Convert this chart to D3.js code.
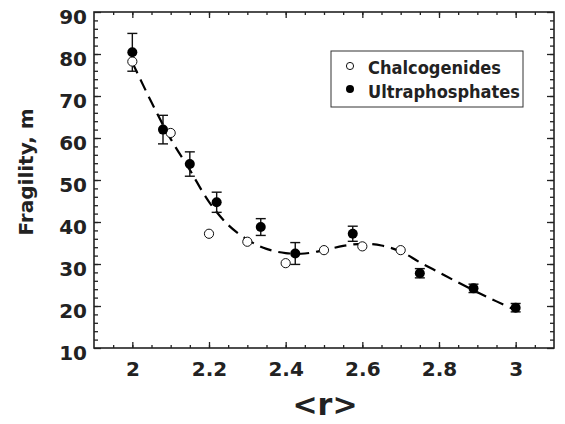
<!DOCTYPE html>
<html>
<head>
<meta charset="utf-8">
<script src="https://cdn.jsdelivr.net/npm/d3@7"></script>
<style>
  body { margin: 0; background: #fff; }
  text { font-family: "DejaVu Sans", sans-serif; font-weight: bold; fill: #222; }
</style>
</head>
<body>
<svg width="565" height="424"></svg>
<script>
// ultraphosphates (filled, with error bars)
var ultraR   = [2.0, 2.08, 2.15, 2.22, 2.335, 2.425, 2.575, 2.75, 2.89, 3.0];
var ultraM   = [80.4, 62.0, 53.8, 44.7, 38.8, 32.5, 37.2, 27.8, 24.2, 19.6];
var ultraErr = [4.5, 3.4, 2.9, 2.4, 2.0, 2.6, 1.8, 1.1, 1.0, 1.0];

// chalcogenides (open)
var chalcR = [2.0, 2.1, 2.2, 2.3, 2.4, 2.5, 2.6, 2.7];
var chalcM = [78.2, 61.2, 37.2, 35.3, 30.2, 33.3, 34.2, 33.3];

// dashed guide curve
var fitR = [2.0, 2.05, 2.1, 2.15, 2.2, 2.25, 2.3, 2.35, 2.4, 2.45, 2.5, 2.55, 2.6, 2.65, 2.7, 2.75, 2.8, 2.85, 2.9, 2.95, 3.0];
var fitM = [78, 68.5, 59.8, 52.4, 44.8, 39.3, 35.8, 33.6, 32.6, 32.5, 33.3, 34.3, 34.8, 34.4, 33.0, 30.4, 28.0, 25.6, 23.3, 21.1, 19.0];

var xTicks = [2, 2.2, 2.4, 2.6, 2.8, 3];
var yTicks = [10, 20, 30, 40, 50, 60, 70, 80, 90];

var svg = d3.select("svg");
var L = 94, R = 554, T = 12, B = 348;

var x = d3.scaleLinear().domain([1.9, 3.1]).range([L, R]);
var y = d3.scaleLinear().domain([10, 90]).range([B, T]);

// ticks, all pointing inward
var xMinor = d3.range(1.95, 3.1, 0.05);
var yMinor = d3.range(12, 90, 2);

var g = svg.append("g");
g.append("g").attr("transform", "translate(0," + B + ")")
  .call(d3.axisBottom(x).tickValues(xMinor).tickSize(-3).tickFormat(""));
g.append("g").attr("transform", "translate(0," + T + ")")
  .call(d3.axisTop(x).tickValues(xMinor).tickSize(-3).tickFormat(""));
g.append("g").attr("transform", "translate(" + L + ",0)")
  .call(d3.axisLeft(y).tickValues(yMinor).tickSize(-4).tickFormat(""));
g.append("g").attr("transform", "translate(" + R + ",0)")
  .call(d3.axisRight(y).tickValues(yMinor).tickSize(-4).tickFormat(""));

var xb = g.append("g").attr("transform", "translate(0," + B + ")")
  .call(d3.axisBottom(x).tickValues(xTicks).tickSize(-6).tickPadding(14).tickFormat(d3.format("")));
g.append("g").attr("transform", "translate(0," + T + ")")
  .call(d3.axisTop(x).tickValues(xTicks).tickSize(-6).tickFormat(""));
var yl = g.append("g").attr("transform", "translate(" + L + ",0)")
  .call(d3.axisLeft(y).tickValues(yTicks).tickSize(-7).tickPadding(7));
g.append("g").attr("transform", "translate(" + R + ",0)")
  .call(d3.axisRight(y).tickValues(yTicks).tickSize(-7).tickFormat(""));

g.selectAll(".domain").remove();
g.selectAll(".tick line").attr("stroke", "#222").attr("stroke-width", 1.3);
g.selectAll(".tick text").style("font-size", "20px").attr("fill", "#222");
yl.selectAll(".tick text").attr("dy", "0.55em");
xb.selectAll(".tick text").attr("dy", "0.72em");

// frame
svg.append("rect").attr("x", L).attr("y", T).attr("width", R - L).attr("height", B - T)
  .attr("fill", "none").attr("stroke", "#222").attr("stroke-width", 1.6);

// dashed curve
var line = d3.line().curve(d3.curveCatmullRom)
  .x(function(d, i) { return x(fitR[i]); })
  .y(function(d, i) { return y(fitM[i]); });
svg.append("path").datum(fitR).attr("d", line)
  .attr("fill", "none").attr("stroke", "#000").attr("stroke-width", 2.2)
  .attr("stroke-dasharray", "12,7");

// error bars
var eb = svg.append("g").attr("stroke", "#111").attr("stroke-width", 1.4);
ultraR.forEach(function(r, i) {
  var cx = x(r), y1 = y(ultraM[i] + ultraErr[i]), y2 = y(ultraM[i] - ultraErr[i]);
  eb.append("line").attr("x1", cx).attr("x2", cx).attr("y1", y1).attr("y2", y2);
  eb.append("line").attr("x1", cx - 5).attr("x2", cx + 5).attr("y1", y1).attr("y2", y1);
  eb.append("line").attr("x1", cx - 5).attr("x2", cx + 5).attr("y1", y2).attr("y2", y2);
});

// open circles
svg.append("g").selectAll("circle").data(chalcR).enter().append("circle")
  .attr("cx", function(d) { return x(d); })
  .attr("cy", function(d, i) { return y(chalcM[i]); })
  .attr("r", 4.6).attr("fill", "#fff").attr("stroke", "#111").attr("stroke-width", 1);

// filled circles
svg.append("g").selectAll("circle").data(ultraR).enter().append("circle")
  .attr("cx", function(d) { return x(d); })
  .attr("cy", function(d, i) { return y(ultraM[i]); })
  .attr("r", 5).attr("fill", "#000");

// legend
var lg = svg.append("g");
lg.append("rect").attr("x", 331).attr("y", 51).attr("width", 192).attr("height", 56)
  .attr("fill", "#fff").attr("stroke", "#333").attr("stroke-width", 1);
lg.append("circle").attr("cx", 350).attr("cy", 66).attr("r", 3.6)
  .attr("fill", "#fff").attr("stroke", "#111").attr("stroke-width", 1);
lg.append("circle").attr("cx", 350).attr("cy", 89).attr("r", 4).attr("fill", "#000");
lg.append("text").attr("x", 368).attr("y", 74).style("font-size", "18px")
  .attr("textLength", 133).attr("lengthAdjust", "spacingAndGlyphs").text("Chalcogenides");
lg.append("text").attr("x", 368).attr("y", 98).style("font-size", "18px")
  .attr("textLength", 152).attr("lengthAdjust", "spacingAndGlyphs").text("Ultraphosphates");

// axis titles
svg.append("text").attr("transform", "translate(33,172) rotate(-90)")
  .attr("text-anchor", "middle").style("font-size", "20px").text("Fragility, m");
svg.append("text").attr("x", (L + R) / 2 + 1).attr("y", 415)
  .attr("text-anchor", "middle").style("font-size", "30px").text("<r>");
</script>
</body>
</html>
